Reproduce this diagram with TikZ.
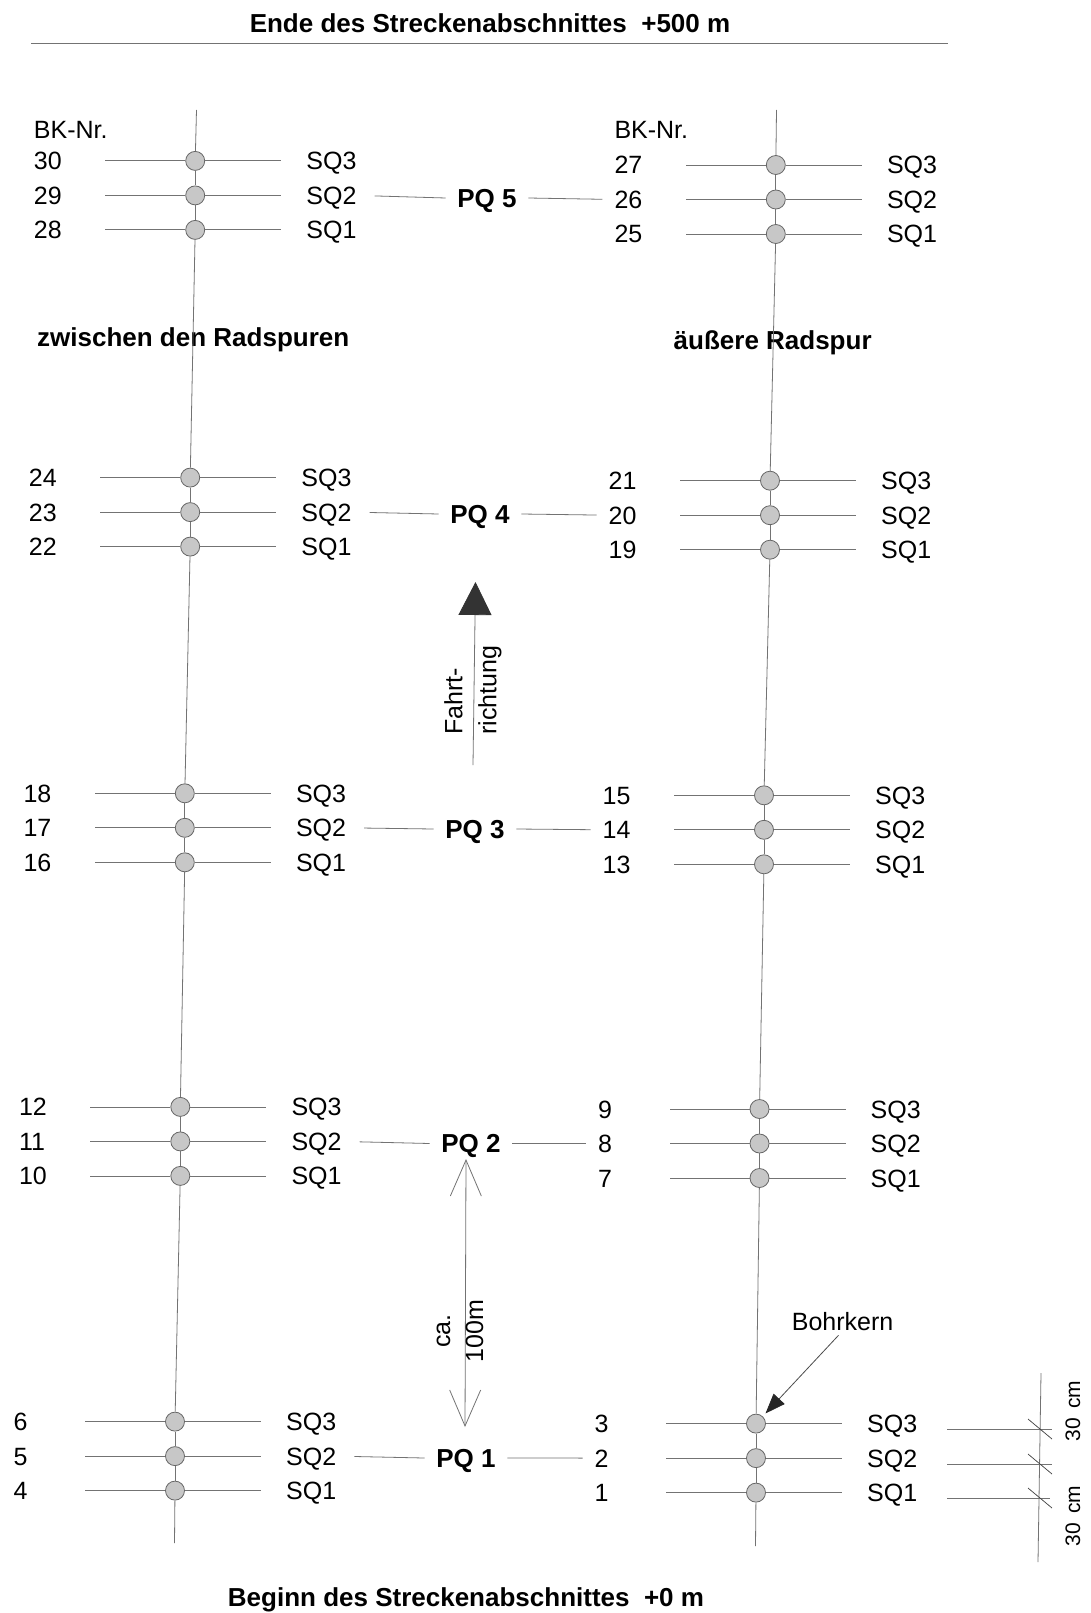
\documentclass[tikz,border=0pt]{standalone}
\usepackage{fontspec}
\setmainfont{Liberation Sans}
\usetikzlibrary{arrows.meta,calc}
\tikzset{
  hl/.style={draw=black!55, line width=0.8pt},
  bk/.style={circle, draw=black!60, fill=black!22, line width=0.8pt, minimum size=19pt, inner sep=0pt},
  lbl/.style={inner sep=0pt, anchor=west, font=\fontsize{25}{30}\selectfont, text height=18pt, text depth=0pt},
  ttl/.style={inner sep=0pt, font=\fontsize{26}{31}\selectfont\bfseries, text height=18.6pt, text depth=0pt},
  pq/.style={ttl, inner xsep=11.5pt},
  rot/.style={rotate=90, inner sep=0pt},
}
\newcommand\sqrow[5]{%
  \node[bk] (#1) at (#2,#3) {};
  \coordinate (#1L) at (#2-90,#3);
  \coordinate (#1R) at (#2+86,#3);
  \draw[hl] (#1) -- (#1L);
  \draw[hl] (#1) -- (#1R);
  \node[lbl] (#1n) at (#2-161.5,#3) {#4};
  \node[lbl] (#1s) at (#2+111,#3) {SQ#5};
}
\newcommand\grp[6]{%
  \sqrow{#1a}{#2}{#3-34.5}{#4}{3}
  \sqrow{#1b}{#2}{#3}{#5}{2}
  \sqrow{#1c}{#2}{#3+34.5}{#6}{1}
}
\begin{document}
\begin{tikzpicture}[x=1pt,y=-1pt]
\useasboundingbox (0,0) rectangle (1090,1613);
\fill[white] (0,0) rectangle (1090,1613);

% titles
\node[ttl] (ende) at (490,23) {Ende des Streckenabschnittes\ \ +500 m};
\coordinate (tl1) at (31,43);
\coordinate (tl2) at (948,43);
\draw[hl] (tl1) -- (tl2);
\node[ttl] (beginn) at (466,1597) {Beginn des Streckenabschnittes\ \ +0 m};
\node[ttl, anchor=west] (zw) at (37,337) {zwischen den Radspuren};
\node[ttl, anchor=west] (ae) at (673.5,340.4) {äußere Radspur};

% BK-Nr.
\node[lbl] (bkl) at (33.7,129.6) {BK-Nr.};
\node[lbl] (bkr) at (614.3,129.6) {BK-Nr.};

% groups
\grp{L5}{195.2}{195.4}{30}{29}{28}
\grp{L4}{190.2}{512.1}{24}{23}{22}
\grp{L3}{184.8}{827.8}{18}{17}{16}
\grp{L2}{180.3}{1141.4}{12}{11}{10}
\grp{L1}{175}{1456.1}{6}{5}{4}
\grp{R5}{775.8}{199.5}{27}{26}{25}
\grp{R4}{770}{515.2}{21}{20}{19}
\grp{R3}{764}{829.8}{15}{14}{13}
\grp{R2}{759.5}{1143.5}{9}{8}{7}
\grp{R1}{756}{1458.1}{3}{2}{1}

% vertical lines
\coordinate (Ltop) at (196.5,110);
\coordinate (Lbot) at (174.5,1543);
\coordinate (Rtop) at (776.5,110);
\coordinate (Rbot) at (755.5,1546);
\foreach \s in {L,R}{
  \foreach \a/\b in {top/5a,5a/5b,5b/5c,5c/4a,4a/4b,4b/4c,4c/3a,3a/3b,3b/3c,3c/2a,2a/2b,2b/2c,2c/1a,1a/1b,1b/1c,1c/bot}{
    \draw[hl] (\s\a) -- (\s\b);
  }
}

% PQ labels
\node[pq] (pq5) at (487,198) {PQ 5};
\node[pq] (pq4) at (480,514) {PQ 4};
\node[pq] (pq3) at (475,829) {PQ 3};
\node[pq] (pq2) at (471,1143.5) {PQ 2};
\node[pq] (pq1) at (466,1458) {PQ 1};
\foreach \i in {1,...,5}{
  \draw[hl, shorten <=18pt] (L\i bs.east) -- (pq\i.west);
  \draw[hl, shorten >=12pt] (pq\i.east) -- (R\i bn.west);
}

% Fahrtrichtung
\coordinate (fa0) at (473,765);
\coordinate (fa1) at (475.5,582);
\draw[hl, -{Triangle[length=33pt,width=33pt,color=black!80]}] (fa0) -- (fa1);
\node[rot, align=left, anchor=west, font=\fontsize{25}{34}\selectfont] (fr) at (473,735) {Fahrt-\\richtung};

% ca. 100 m
\coordinate (d1) at (466,1159);
\coordinate (d2) at (465,1427);
\draw[hl, {Straight Barb[length=36pt,width=31pt]}-{Straight Barb[length=36pt,width=31pt]}] (d2) -- (d1);
\node[rot, align=center, font=\fontsize{25}{33}\selectfont] (ca) at (460,1331) {ca.\\100m};

% Bohrkern
\node[lbl] (bohr) at (791.7,1321.7) {Bohrkern};
\draw[hl, draw=black!70, shorten <=6pt, shorten >=4pt, -{Triangle[length=20pt,width=15pt,color=black!85]}] (bohr.south) -- (R1a);

% 30 cm scale
\coordinate (s0) at (1041,1373);
\coordinate (s4) at (1038,1562);
\draw[hl] (s0) -- (s4);
\foreach \y/\e in {1429/1052,1464/1052,1498/1050}{
  \coordinate (ha) at (947,\y);
  \coordinate (hb) at (\e,\y);
  \draw[hl] (ha) -- (hb);
  \coordinate (hx) at (1040,\y);
  \draw[black!75, line width=0.7pt] ($(hx)+(-12,-10)$) -- ($(hx)+(12,10)$);
}
\node[rot, font=\fontsize{21}{25}\selectfont] (cm1) at (1073,1411) {30\hspace{9pt}cm};
\node[rot, font=\fontsize{21}{25}\selectfont] (cm2) at (1073,1516) {30\hspace{9pt}cm};
\end{tikzpicture}
\end{document}
